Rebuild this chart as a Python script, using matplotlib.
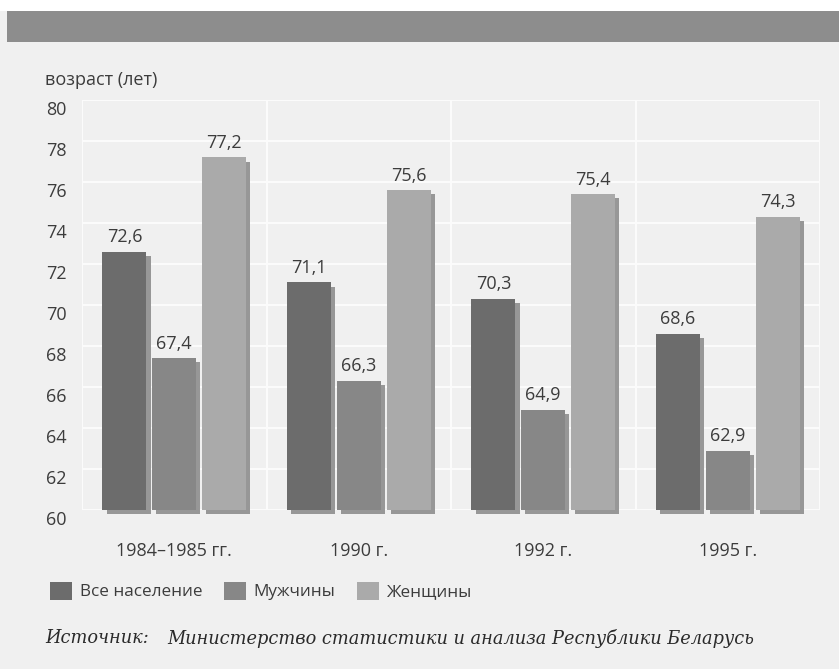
import matplotlib
matplotlib.use("Agg")
import matplotlib.pyplot as plt
import matplotlib.patheffects as pe
from matplotlib.patches import Rectangle
from matplotlib.transforms import ScaledTranslation
import numpy as np

periods = ["1984\u20131985 гг.", "1990 г.", "1992 г.", "1995 г."]
series_names = ["Все население", "Мужчины", "Женщины"]
all_pop = [72.6, 71.1, 70.3, 68.6]
men = [67.4, 66.3, 64.9, 62.9]
women = [77.2, 75.6, 75.4, 74.3]
yticks = list(range(60, 81, 2))

bar_colors = ["#6c6c6c", "#878787", "#aaaaaa"]
shadow_color = "#979797"
bg = "#f0f0f0"
text_color = "#3c3c3c"

plt.rcParams["font.family"] = ["Open Sans", "DejaVu Sans"]

W, H = 839, 669
fig = plt.figure(figsize=(W / 100, H / 100), dpi=100, facecolor=bg)

# white strip and dark band at the top
fig.patches.append(Rectangle((0, 1 - 11 / H), 1, 11 / H, transform=fig.transFigure,
                             facecolor="white", edgecolor="none", zorder=0))
fig.patches.append(Rectangle((7 / W, 1 - 42 / H), 1, 31 / H, transform=fig.transFigure,
                             facecolor="#8d8d8d", edgecolor="none", zorder=0))

left, right, top, bottom = 82, 820, 100, 510
ax = fig.add_axes([left / W, 1 - bottom / H, (right - left) / W, (bottom - top) / H])
ax.set_facecolor(bg)

x = np.arange(len(periods))
width = 0.238
step = 0.27
shadow = pe.SimplePatchShadow(offset=(3, -3), shadow_rgbFace=shadow_color, alpha=1.0)

for i, (vals, col) in enumerate(zip([all_pop, men, women], bar_colors)):
    pos = x + (i - 1) * step
    bars = ax.bar(pos, np.array(vals) - 60, bottom=60, width=width, color=col, zorder=3)
    for b in bars:
        b.set_path_effects([shadow, pe.Normal()])
        b.set_clip_on(False)
    for p, v in zip(pos, vals):
        ax.annotate(f"{v:.1f}".replace(".", ","), (p, v), xytext=(0, 4),
                    textcoords="offset points", ha="center", va="bottom",
                    fontsize=13, color=text_color, zorder=4)

ax.set_xlim(-0.5, len(periods) - 0.5)
ax.set_ylim(60, 80)
ax.set_yticks(yticks)
ax.set_yticklabels([str(t) for t in yticks])
ax.set_xticks(x)
ax.set_xticklabels(periods)
ax.set_xticks(np.arange(-0.5, len(periods)), minor=True)
ax.tick_params(axis="both", which="both", length=0, colors=text_color, labelsize=13)
ax.tick_params(axis="y", pad=11)
ax.tick_params(axis="x", pad=23)
off = ScaledTranslation(0, -0.08, fig.dpi_scale_trans)
for lab in ax.get_yticklabels():
    lab.set_transform(lab.get_transform() + off)

ax.grid(axis="y", which="major", color="#fbfbfb", linewidth=1.5, zorder=0)
ax.grid(axis="x", which="minor", color="#fbfbfb", linewidth=1.5, zorder=0)
ax.set_axisbelow(True)
for s in ax.spines.values():
    s.set_visible(False)

fig.text(45 / W, 1 - 80 / H, "возраст (лет)", ha="left", va="center",
         fontsize=13, color=text_color)

handles = [Rectangle((0, 0), 1, 1, facecolor=c, edgecolor="none") for c in bar_colors]
fig.legend(handles, series_names, loc="center left",
           bbox_to_anchor=(50 / W, 1 - 591 / H), bbox_transform=fig.transFigure,
           ncol=3, frameon=False, fontsize=12.3, handlelength=1.3, handleheight=1.25,
           handletextpad=0.45, columnspacing=1.25, borderpad=0, borderaxespad=0,
           labelcolor=text_color)

fig.text(45 / W, 1 - 638 / H, "Источник:", ha="left", va="center", fontsize=12.8,
         family="DejaVu Serif", style="italic", color="#2a2a2a")
fig.text(167 / W, 1 - 638 / H, "Министерство статистики и анализа Республики Беларусь",
         ha="left", va="center", fontsize=12.8, family="DejaVu Serif", style="italic",
         color="#2a2a2a")

fig.savefig("out.png", dpi=100, facecolor=bg)
